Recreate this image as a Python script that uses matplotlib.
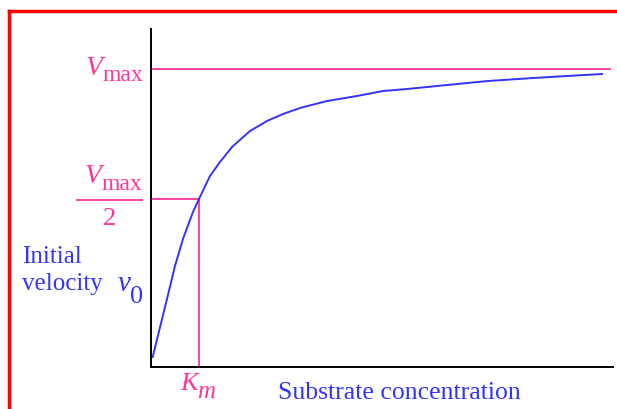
import matplotlib
matplotlib.use('Agg')
import matplotlib.pyplot as plt
from matplotlib.lines import Line2D

plt.rcParams['font.family'] = ['Liberation Serif', 'DejaVu Serif']

# curve (substrate conc. vs initial velocity)
substrate = [1.2, 15.5, 23.5, 31.5, 41.5, 47.5, 58.5, 68.5, 80.5, 98.5, 115.5,
             131.5, 148.5, 175.5, 205.5, 231.5, 255.5, 295.5, 336.5, 381.5, 415.5, 450.5]
velocity = [10, 68, 101, 128, 155, 168, 191, 205, 220, 236, 246,
            253, 259, 266, 271, 276, 278, 282, 286, 289, 291, 293]
vmax = 298
vhalf = 168
km = 47.5
vmax_end = 459

pink = '#FF3399'
blue = '#3333FF'
W, H = 617, 410

fig = plt.figure(figsize=(W / 100, H / 100), dpi=100)
ax = fig.add_axes([0.2455, 0.1024, 0.748, 0.8244])
ax.set_xlim(0, 461.5)
ax.set_ylim(0, 338)

ax.plot(substrate, velocity, color=blue, lw=1.4, zorder=3)
ax.plot([0, vmax_end], [vmax, vmax], color=pink, lw=1.3)
ax.plot([0, km], [vhalf, vhalf], color=pink, lw=1.3)
ax.plot([km, km], [0, vhalf], color=pink, lw=1.3)

for s in ['top', 'right']:
    ax.spines[s].set_visible(False)
for s in ['left', 'bottom']:
    ax.spines[s].set_linewidth(1.4)
    ax.spines[s].set_color('black')
ax.set_xticks([])
ax.set_yticks([])

renderer = fig.canvas.get_renderer()


def fx(px):
    return px / W


def fy(py):
    return 1 - py / H


def label(x_right, base, main, sub, drop, color, size=20, sub_size=17,
          sub_style='normal'):
    t = fig.text(fx(x_right), fy(base + drop), sub, color=color, fontsize=sub_size,
                 style=sub_style, ha='right', va='baseline')
    bb = t.get_window_extent(renderer)
    fig.text(bb.x0 / W + 0.5 / W, fy(base), main, color=color, fontsize=size,
             style='italic', ha='right', va='baseline')


label(143, 75, 'V', 'max', 6, pink)
label(142, 183, 'V', 'max', 7, pink)
fig.add_artist(Line2D([fx(77), fx(142)], [fy(201), fy(201)], color=pink, lw=1.3))
fig.text(fx(110), fy(225), '2', color=pink, fontsize=19, ha='center', va='baseline')

fig.text(fx(22), fy(263), 'Initial', color=blue, fontsize=18, ha='left', va='baseline')
fig.text(fx(22), fy(290), 'velocity', color=blue, fontsize=18, ha='left', va='baseline')
label(143, 291, 'v', '0', 12, blue, size=21, sub_size=19)
label(215, 390, 'K', 'm', 8, pink, size=19, sub_size=18, sub_style='italic')

fig.text(fx(399), fy(399), 'Substrate concentration', color=blue,
         fontsize=18.5, ha='center', va='baseline')

# red frame
fig.add_artist(Line2D([fx(9), 1], [fy(12), fy(12)], color='#FF0000', lw=2.5))
fig.add_artist(Line2D([fx(9), fx(9)], [0, fy(12)], color='#FF0000', lw=2.5))

fig.savefig('out.png', dpi=100)
